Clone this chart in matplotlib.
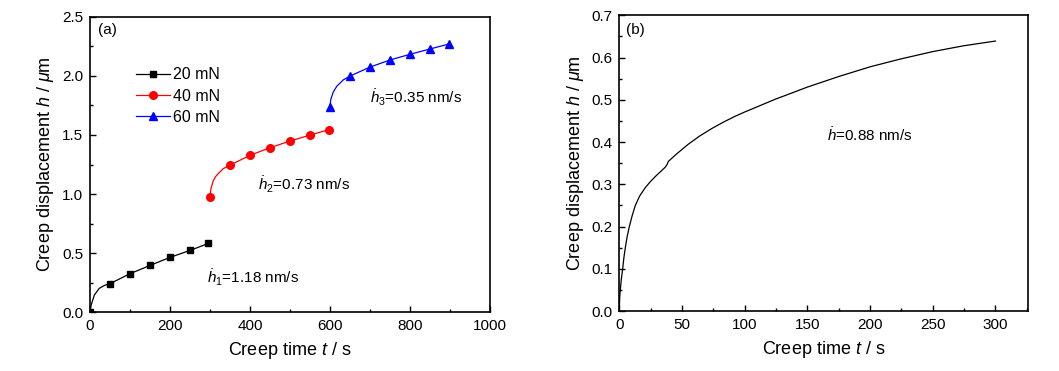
import numpy as np
import matplotlib
matplotlib.use("Agg")
import matplotlib.pyplot as plt
from matplotlib.ticker import MultipleLocator, FormatStrFormatter

plt.rcParams['font.family'] = ['Liberation Sans', 'DejaVu Sans']
plt.rcParams['mathtext.fontset'] = 'custom'
plt.rcParams['mathtext.it'] = 'Liberation Sans:italic'
plt.rcParams['mathtext.rm'] = 'Liberation Sans'

# ---- panel (a): creep curves at three loads ----
t_20 = [0, 0.5, 2, 5, 10.8, 23, 36, 50, 100, 150, 200, 250, 296]
h_20 = [0, 0.02, 0.05, 0.085, 0.146, 0.203, 0.228, 0.243, 0.327, 0.397, 0.465, 0.524, 0.583]
mk_20 = [0, 7, 8, 9, 10, 11, 12]

t_40 = [300, 300.5, 302.5, 308, 314, 321, 333, 350, 400, 450, 500, 550, 597]
h_40 = [0.972, 1.0, 1.048, 1.112, 1.148, 1.175, 1.215, 1.245, 1.328, 1.392, 1.449, 1.499, 1.545]
mk_40 = [0, 7, 8, 9, 10, 11, 12]

t_60 = [600, 600.5, 602, 608, 617, 633, 650, 700, 750, 800, 850, 897]
h_60 = [1.736, 1.76, 1.80, 1.862, 1.912, 1.965, 1.998, 2.074, 2.134, 2.182, 2.227, 2.269]
mk_60 = [0, 6, 7, 8, 9, 10, 11]

# ---- panel (b): creep curve at a single load ----
t_b = [0, 0.3, 0.8, 1.6, 2.7, 3.6, 4.8, 6.2, 8, 10.2, 12.8, 16.2, 20.7, 25, 30,
       36.5, 38, 39.1, 45, 55.1, 64, 73.8, 83, 92.4, 100, 113.7, 125, 134.9,
       150, 175, 200, 225, 250, 275, 300]
h_b = [0, 0.03, 0.05, 0.075, 0.1, 0.125, 0.15, 0.175, 0.2, 0.225, 0.25, 0.272,
       0.292, 0.307, 0.322, 0.340, 0.346, 0.354, 0.370, 0.395, 0.414, 0.432,
       0.447, 0.461, 0.471, 0.488, 0.502, 0.513, 0.530, 0.555, 0.578, 0.597,
       0.614, 0.628, 0.639]

fig = plt.figure(figsize=(10.59, 3.71), dpi=100)
ax1 = fig.add_axes([0.085, 0.158, 0.3777, 0.797])
ax2 = fig.add_axes([0.5848, 0.1617, 0.3859, 0.7971])

fs_tick = 11
fs_lab = 13

ax1.plot(t_20, h_20, color='black', lw=0.9, marker='s', ms=5, markevery=mk_20, label='20 mN')
ax1.plot(t_40, h_40, color='red', lw=0.9, marker='o', ms=5.5, markevery=mk_40, label='40 mN')
ax1.plot(t_60, h_60, color='blue', lw=0.9, marker='^', ms=6, markevery=mk_60, label='60 mN')
ax1.set_xlim(0, 1000)
ax1.set_ylim(0, 2.5)
ax1.xaxis.set_major_locator(MultipleLocator(200))
ax1.xaxis.set_minor_locator(MultipleLocator(100))
ax1.yaxis.set_major_locator(MultipleLocator(0.5))
ax1.yaxis.set_minor_locator(MultipleLocator(0.25))
ax1.yaxis.set_major_formatter(FormatStrFormatter('%.1f'))
ax1.legend(loc='upper left', bbox_to_anchor=(0.10, 0.851), frameon=False,
           fontsize=11.5, handlelength=2.1, handletextpad=0.2,
           labelspacing=0.4, borderaxespad=0)
ax1.text(19, 2.386, '(a)', fontsize=fs_tick, ha='left', va='center')
ax1.text(292, 0.29, r'$\dot{h}_1$=1.18 nm/s', fontsize=fs_tick, ha='left', va='center')
ax1.text(420, 1.076, r'$\dot{h}_2$=0.73 nm/s', fontsize=fs_tick, ha='left', va='center')
ax1.text(700, 1.81, r'$\dot{h}_3$=0.35 nm/s', fontsize=fs_tick, ha='left', va='center')

ax2.plot(t_b, h_b, color='black', lw=0.9)
ax2.set_xlim(0, 326)
ax2.set_ylim(0, 0.7)
ax2.xaxis.set_major_locator(MultipleLocator(50))
ax2.xaxis.set_minor_locator(MultipleLocator(25))
ax2.yaxis.set_major_locator(MultipleLocator(0.1))
ax2.yaxis.set_minor_locator(MultipleLocator(0.05))
ax2.yaxis.set_major_formatter(FormatStrFormatter('%.1f'))
ax2.text(5, 0.665, '(b)', fontsize=fs_tick, ha='left', va='center')
ax2.text(165.6, 0.417, r'$\dot{h}$=0.88 nm/s', fontsize=fs_tick, ha='left', va='center')

for ax in (ax1, ax2):
    ax.set_xlabel(r'Creep time $t$ / s', fontsize=fs_lab, labelpad=5)
    ax.set_ylabel(r'Creep displacement $h$ / $\mu$m', fontsize=fs_lab, labelpad=4)
    ax.tick_params(which='both', direction='in', top=False, right=False,
                   labelsize=fs_tick, width=1, pad=5)
    ax.tick_params(which='major', length=4.5)
    ax.tick_params(which='minor', length=2.5)
    for s in ax.spines.values():
        s.set_linewidth(1.2)

fig.savefig('out.png', dpi=100)
